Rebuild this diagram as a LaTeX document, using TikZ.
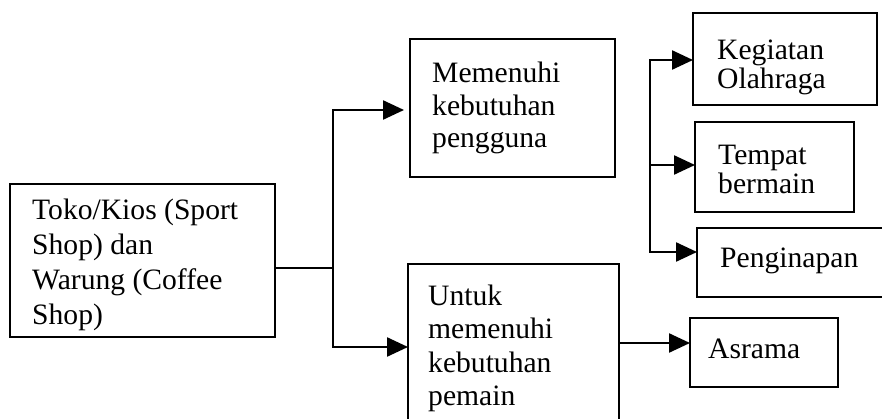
\documentclass[tikz,border=0pt]{standalone}
\usepackage{fontspec}
\setmainfont{Liberation Serif}
\usetikzlibrary{arrows.meta}
\newcommand{\boxtext}[2]{{\fontsize{29.6pt}{#1pt}\selectfont\begin{tabular}[t]{@{}l@{}}#2\end{tabular}}}
\begin{document}
\begin{tikzpicture}[x=1pt,y=-1pt,
  frame/.style={draw, line width=2.6pt, inner sep=0pt, outer sep=0pt, anchor=north west},
  lbl/.style={anchor=base west, inner sep=0pt},
  link/.style={line width=2.4pt},
  arr/.style={line width=2.4pt, -{Triangle[length=21pt,width=19pt]}}]
\clip (0,0) rectangle (882,419);
\fill[white] (0,0) rectangle (882,419);
% boxes
\node[frame, minimum width=265pt, minimum height=153pt] (left) at (10,184) {};
\node[frame, minimum width=205pt, minimum height=138pt] (mem) at (410,39) {};
\node[frame, minimum width=184pt, minimum height=92pt] (keg) at (693,13) {};
\node[frame, minimum width=159pt, minimum height=90pt] (tem) at (695,122) {};
\node[frame, minimum width=220pt, minimum height=69pt] (pen) at (697,228) {};
\node[frame, minimum width=211pt, minimum height=200pt] (unt) at (408,264) {};
\node[frame, minimum width=148pt, minimum height=69pt] (asr) at (690,318) {};
% texts
\node[lbl] (tleft) at (32,220) {\boxtext{35}{Toko/Kios (Sport\\Shop) dan\\Warung (Coffee\\Shop)}};
\node[lbl] (tmem) at (432,83) {\boxtext{32.5}{Memenuhi\\kebutuhan\\pengguna}};
\node[lbl] (tkeg) at (717,60) {\boxtext{26}{Kegiatan\\Olahraga}};
\node[lbl] (ttem) at (718,165) {\boxtext{28}{Tempat\\bermain}};
\node[lbl] (tpen) at (720,268) {\boxtext{30}{Penginapan}};
\node[lbl] (tunt) at (428,305) {\boxtext{33.5}{Untuk\\memenuhi\\kebutuhan\\pemain}};
\node[lbl] (tasr) at (708,358) {\boxtext{30}{Asrama}};
% connector points
\coordinate (j) at (333,268);
\coordinate (jt) at (333,110);
\coordinate (jb) at (333,347);
\coordinate (a) at (620,343);
\coordinate (t1) at (650,60);
\coordinate (t2) at (650,165);
\coordinate (t3) at (650,252);
% connectors
\draw[link] (left.east |- j) -- (j);
\draw[arr, shorten >=6pt] (j) -- (jt) -- (mem.west |- jt);
\draw[arr] (j) -- (jb) -- (unt.west |- jb);
\draw[arr] (unt.east |- a) -- (asr.west |- a);
\draw[arr] (t2) -- (t1) -- (keg.west |- t1);
\draw[arr] (t2) -- (tem.west |- t2);
\draw[arr] (t2) -- (t3) -- (pen.west |- t3);
\end{tikzpicture}
\end{document}
